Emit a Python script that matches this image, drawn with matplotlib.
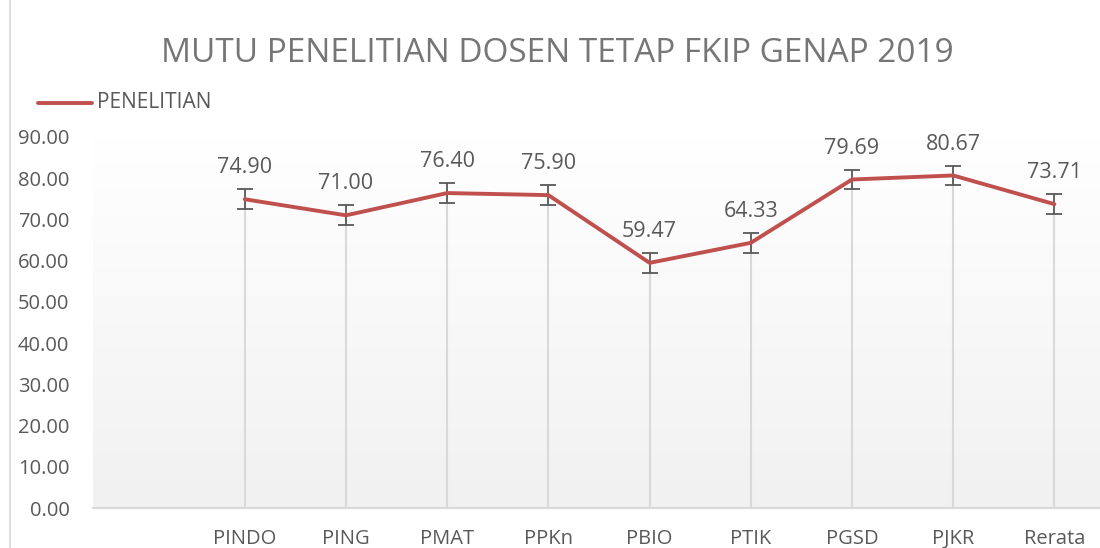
import matplotlib
matplotlib.use("Agg")
import matplotlib.pyplot as plt
import numpy as np
from matplotlib.lines import Line2D

categories = ["", "PINDO", "PING", "PMAT", "PPKn", "PBIO", "PTIK", "PGSD", "PJKR", "Rerata"]
values = [None, 74.90, 71.00, 76.40, 75.90, 59.47, 64.33, 79.69, 80.67, 73.71]
errors = [None, 2.4, 2.4, 2.4, 2.4, 2.4, 2.4, 2.4, 2.4, 2.4]
yticks = [0, 10, 20, 30, 40, 50, 60, 70, 80, 90]
title = "MUTU PENELITIAN DOSEN TETAP FKIP GENAP 2019"
series_name = "PENELITIAN"

plt.rcParams['font.family'] = ['Open Sans', 'DejaVu Sans']
W, H = 1100, 548
fig = plt.figure(figsize=(W / 100, H / 100), dpi=100)
fig.patch.set_facecolor("white")

left, right, bottom_px, top_px = 93, 1105, 508, 137
ax = fig.add_axes([left / W, (H - bottom_px) / H, (right - left) / W, (bottom_px - top_px) / H])

idx = [i for i, v in enumerate(values) if v is not None]
xs = np.array(idx)
ys = np.array([values[i] for i in idx])
es = np.array([errors[i] for i in idx])

ax.set_xlim(-0.5, len(categories) - 0.5)
ax.set_ylim(0, 90)

# gradient background
grad = np.linspace(1.0, 0.0, 256).reshape(-1, 1)
c_top = np.array([1.0, 1.0, 1.0])
c_bot = np.array([0.945, 0.945, 0.945])
img = c_bot + (c_top - c_bot) * grad[..., None]
img = img.reshape(256, 1, 3)
ax.imshow(img, extent=[-0.5, len(categories) - 0.5, 0, 90], aspect='auto', zorder=0, origin='upper')
ax.set_facecolor("white")

# drop lines
ax.vlines(xs, 0, ys, color="#d9d9d9", linewidth=1.5, zorder=1)
# error bars
ax.errorbar(xs, ys, yerr=es, fmt='none', ecolor="#595959", elinewidth=1.3, capsize=5.5, capthick=1.3, zorder=2)
# line
ax.plot(xs, ys, color="#c0504d", linewidth=2.8, solid_capstyle='round', zorder=3)

for x, y in zip(xs, ys):
    ax.annotate(f"{y:.2f}", (x, y), xytext=(0, 15), textcoords='offset points',
                ha='center', va='bottom', fontsize=15.5, color="#595959")

ax.set_xticks(range(len(categories)))
ax.set_xticklabels(categories, fontsize=14.5, color="#595959")
ax.set_yticks(yticks)
ax.set_yticklabels([f"{t:.2f}" for t in yticks], fontsize=14.5, color="#595959")
ax.tick_params(axis='both', length=0)
ax.tick_params(axis='x', pad=15)
ax.tick_params(axis='y', pad=17)
for s in ["top", "right", "left"]:
    ax.spines[s].set_visible(False)
ax.spines["bottom"].set_color("#d9d9d9")
ax.spines["bottom"].set_linewidth(1.5)
ax.spines["bottom"].set_zorder(4)

fig.text(557 / W, 1 - 54 / H, title, ha='center', va='center', fontsize=24, color="#767676")

# legend
fig.add_artist(Line2D([38 / W, 92 / W], [1 - 103 / H, 1 - 103 / H], color="#c0504d", linewidth=2.8,
                      solid_capstyle='round', transform=fig.transFigure))
fig.text(97 / W, 1 - 103 / H, series_name, ha='left', va='center', fontsize=15, color="#595959")

# chart frame left edge
fig.add_artist(Line2D([10 / W, 10 / W], [0, 1], color="#d9d9d9", linewidth=1.2, transform=fig.transFigure))

fig.savefig("out.png", dpi=100)
